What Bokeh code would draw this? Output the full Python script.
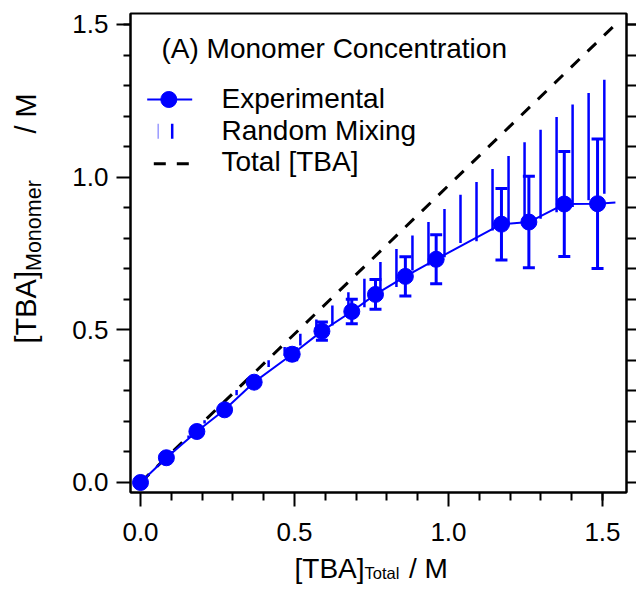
import math
from bokeh.plotting import figure
from bokeh.layouts import row, column
from bokeh.core.properties import value
from bokeh.models import (Range1d, LinearAxis, FixedTicker, Whisker, TeeHead,
                          ColumnDataSource, Label, PrintfTickFormatter)
from bokeh.embed import file_html
from bokeh.resources import INLINE

# ---------------- data ----------------
exp_x = [0.0, 0.084, 0.183, 0.273, 0.369, 0.4925, 0.589, 0.686, 0.763, 0.860,
         0.960, 1.172, 1.261, 1.376, 1.484]
exp_y = [0.0, 0.081, 0.167, 0.238, 0.3285, 0.420, 0.4956, 0.560, 0.616, 0.675,
         0.731, 0.846, 0.853, 0.912, 0.913]
exp_err = [0.0, 0.0, 0.0, 0.005, 0.01, 0.018, 0.03, 0.040, 0.049, 0.064,
           0.080, 0.117, 0.150, 0.172, 0.212]
# experimental trace continues past the last point
trace_x = exp_x + [1.542]
trace_y = exp_y + [0.917]

rand_x = [0.052, 0.104, 0.156, 0.208, 0.260, 0.312, 0.364, 0.416, 0.468, 0.519,
          0.571, 0.623, 0.675, 0.727, 0.779, 0.831, 0.883, 0.935, 0.987, 1.039,
          1.091, 1.143, 1.195, 1.247, 1.299, 1.351, 1.403, 1.455, 1.506]
rand_low = [0.050, 0.098, 0.146, 0.193, 0.240, 0.286, 0.332, 0.378, 0.414, 0.449,
            0.482, 0.514, 0.553, 0.574, 0.629, 0.640, 0.694, 0.711, 0.738, 0.784,
            0.790, 0.825, 0.842, 0.855, 0.864, 0.885, 0.902, 0.924, 0.946]
rand_high = [0.052, 0.103, 0.154, 0.204, 0.254, 0.303, 0.351, 0.400, 0.444, 0.487,
             0.534, 0.580, 0.623, 0.667, 0.722, 0.765, 0.809, 0.853, 0.896, 0.942,
             0.984, 1.027, 1.069, 1.114, 1.155, 1.197, 1.238, 1.276, 1.319]

total_x = [0.0, 1.542]
total_y = [0.0, 1.50]

major_ticks = [0.0, 0.5, 1.0, 1.5]
minor_ticks = [0.1, 0.2, 0.3, 0.4, 0.6, 0.7, 0.8, 0.9, 1.1, 1.2, 1.3, 1.4, 1.5]

title_text = "(A) Monomer Concentration"
legend_labels = ["Experimental", "Random Mixing", "Total [TBA]"]
x_label = ["[TBA]", "Total", "/ M"]
y_label = ["[TBA]", "Monomer", "/ M"]

# ---------------- layout (global pixel geometry) ----------------
W, H = 636, 589
LW = 60            # width of the strip holding the y label
XH = 36            # height of the strip holding the x label
FL, FR, FT, FB = 130, 626, 13, 492
XR = (-0.0325, 1.578)
YR = (-0.0328, 1.536)
FONT = "Liberation Sans"
BLUE = "#0000ff"
BASE_SHIFT = 0.33  # baseline correction (em)


def dx(px):
    return XR[0] + (px - FL) / (FR - FL) * (XR[1] - XR[0])


def dy(py):
    return YR[0] + (FB - py) / (FB - FT) * (YR[1] - YR[0])


MH = H - XH
p = figure(width=W - LW, height=MH, output_backend="svg", toolbar_location=None,
           x_range=Range1d(*XR), y_range=Range1d(*YR),
           min_border_left=FL - LW, min_border_right=W - FR,
           min_border_top=FT, min_border_bottom=MH - FB)
p.grid.visible = False
p.outline_line_color = "black"
p.outline_line_width = 2
p.background_fill_color = "white"
p.border_fill_color = "white"

ticker = FixedTicker(ticks=major_ticks, minor_ticks=minor_ticks)


def style_axis(ax, out_major, out_minor, standoff, labels=True):
    ax.ticker = ticker
    ax.axis_line_width = 2
    ax.axis_line_color = "black"
    ax.major_tick_line_width = 2
    ax.minor_tick_line_width = 2
    ax.major_tick_in = 0
    ax.minor_tick_in = 0
    ax.major_tick_out = out_major
    ax.minor_tick_out = out_minor
    ax.formatter = PrintfTickFormatter(format="%.1f")
    if labels:
        ax.major_label_text_font = FONT
        ax.major_label_text_font_size = "26px"
        ax.major_label_text_color = "black"
        ax.major_label_standoff = standoff
    else:
        ax.major_label_text_font_size = "0px"
        ax.major_label_standoff = 0


style_axis(p.xaxis[0], 14, 8, 16)
style_axis(p.yaxis[0], 14, 7, 8)
right = LinearAxis()
style_axis(right, 10, 10, 0, labels=False)
p.add_layout(right, "right")

# ---------------- data marks ----------------
p.segment(x0=rand_x, y0=rand_low, x1=rand_x, y1=rand_high,
          line_color=BLUE, line_width=2.5)
p.line(total_x, total_y, line_color="black", line_width=3, line_dash="12 11")
p.line(trace_x, trace_y, line_color=BLUE, line_width=2)

src = ColumnDataSource(dict(x=exp_x, y=exp_y,
                            lo=[a - b for a, b in zip(exp_y, exp_err)],
                            hi=[a + b for a, b in zip(exp_y, exp_err)]))
p.add_layout(Whisker(source=src, base="x", lower="lo", upper="hi",
                     dimension="height", line_color=BLUE, line_width=3,
                     upper_head=TeeHead(size=12, line_color=BLUE, line_width=3),
                     lower_head=TeeHead(size=12, line_color=BLUE, line_width=3)))
p.scatter("x", "y", source=src, size=16, marker="circle",
          fill_color=BLUE, line_color=BLUE)

# ---------------- legend (drawn by hand) ----------------
p.line([dx(146.7), dx(191.7)], [dy(99), dy(99)], line_color=BLUE, line_width=2)
p.scatter([dx(168.3)], [dy(99)], size=16, marker="circle",
          fill_color=BLUE, line_color=BLUE)
p.segment(x0=[dx(157.7)], y0=[dy(138.3)], x1=[dx(157.7)], y1=[dy(123.3)],
          line_color="#9a9aff", line_width=1.5)
p.segment(x0=[dx(171.7)], y0=[dy(138.3)], x1=[dx(171.7)], y1=[dy(123.3)],
          line_color=BLUE, line_width=2.5)
p.line([dx(153.3), dx(188.3)], [dy(163.3), dy(163.3)], line_color="black",
       line_width=3, line_dash="12 11")


def lab(text, px, py, size):
    p.add_layout(Label(x=dx(px), y=dy(py - BASE_SHIFT * size), text=text,
                       text_font=FONT, text_font_size=f"{size}px",
                       text_color="black", text_align="left",
                       text_baseline="alphabetic"))


lab(title_text, 161, 57.5, 28)
lab(legend_labels[0], 221, 107.7, 28)
lab(legend_labels[1], 221, 139.3, 28)
lab(legend_labels[2], 221, 170.7, 28)


def strip(width, height, xr, yr, borders):
    f = figure(width=width, height=height, output_backend="svg",
               toolbar_location=None, x_axis_location=None,
               y_axis_location=None,
               min_border_left=borders[0], min_border_right=borders[1],
               min_border_top=borders[2], min_border_bottom=borders[3],
               x_range=Range1d(*xr), y_range=Range1d(*yr))
    f.grid.visible = False
    f.outline_line_color = None
    f.background_fill_color = "white"
    f.border_fill_color = "white"
    return f


def htxt(f, text, px, anchor_py, size):
    # global pixel coordinates (y measured downward from the page top)
    f.text(x=[px], y=[H - anchor_py], text=[text],
           text_font=value(FONT), text_font_size=value(f"{size}px"),
           text_color="black", text_align="left", text_baseline="alphabetic")


# x axis label strip (frame aligned with the main frame): [TBA]_Total / M
xs = strip(W - LW, XH, (FL, FR), (0, XH), (FL - LW, W - FR, 0, 0))
htxt(xs, x_label[0], 294, 567.5, 28)
htxt(xs, x_label[1], 364, 572.5, 16.5)
htxt(xs, x_label[2], 408.5, 567.5, 28)

# y axis label strip: [TBA]_Monomer / M (rotated, reads bottom to top)
ys = strip(LW, H, (0, LW), (0, H), (0, 0, 0, 0))
ang = math.pi / 2


def vtxt(text, baseline_px, start_py, size):
    ys.text(x=[baseline_px - BASE_SHIFT * size], y=[H - start_py], text=[text],
            angle=ang, text_font=value(FONT), text_font_size=value(f"{size}px"),
            text_color="black", text_align="left", text_baseline="alphabetic")


vtxt(y_label[0], 35, 343, 29)
vtxt(y_label[1], 41, 270.5, 21.5)
vtxt(y_label[2], 35, 133, 29)

layout = row(ys, column(p, xs))
open("out.html", "w").write(file_html(layout, INLINE))
